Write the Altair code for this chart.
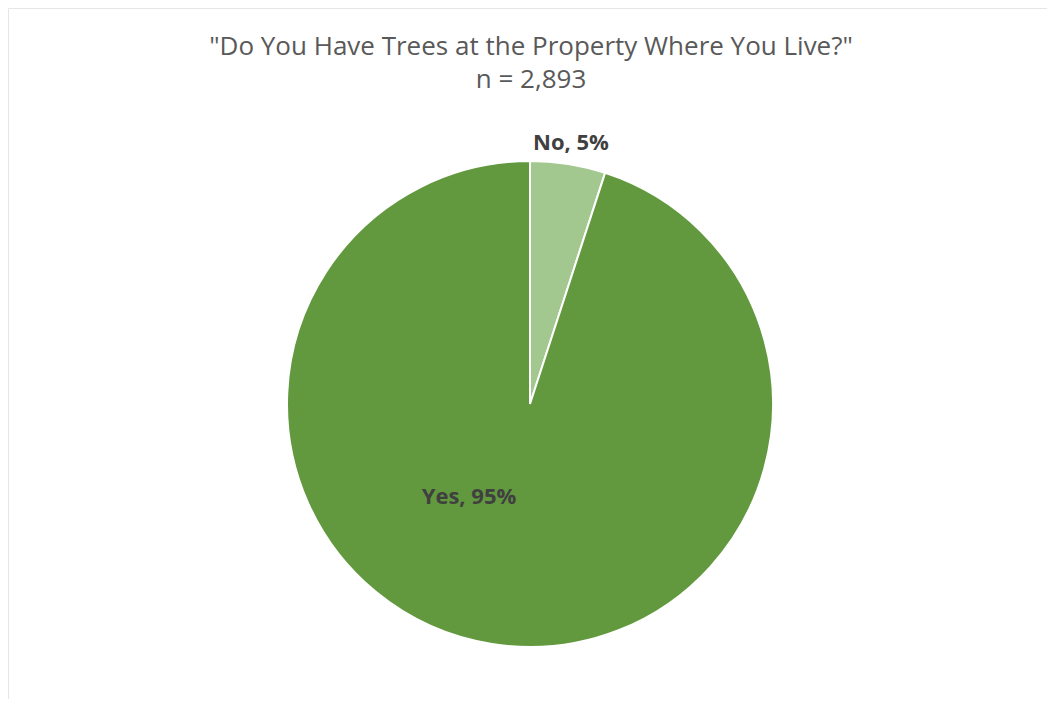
import altair as alt
import pandas as pd

categories = ["No", "Yes"]
percent = [5, 95]
colors = ["#A3C88F", "#62993E"]
label_text = ["No, 5%", "Yes, 95%"]
title_lines = ['"Do You Have Trees at the Property Where You Live?"', "n = 2,893"]

df = pd.DataFrame({"answer": categories, "pct": percent, "order": [0, 1], "label": label_text})

W, H = 1039, 691
CX, CY, R = 522, 396, 243

pie = alt.Chart(df).mark_arc(radius=R, stroke="white", strokeWidth=2).encode(
    theta=alt.Theta("pct:Q", stack=True),
    order=alt.Order("order:Q"),
    color=alt.Color("answer:N", scale=alt.Scale(domain=categories, range=colors), legend=None),
    x=alt.value(CX),
    y=alt.value(CY),
)

lab_no = alt.Chart(df[df.answer == "No"]).mark_text(
    font="Open Sans", fontSize=22, fontWeight="bold", color="#404040"
).encode(text="label:N", x=alt.value(563), y=alt.value(135))

lab_yes = alt.Chart(df[df.answer == "Yes"]).mark_text(
    font="Open Sans", fontSize=22, fontWeight="bold", color="#404040"
).encode(text="label:N", x=alt.value(461), y=alt.value(489))

tdf = pd.DataFrame({"t": title_lines, "i": [0, 1]})
t1 = alt.Chart(tdf[tdf.i == 0]).mark_text(
    font="Open Sans", fontSize=26, color="#595959"
).encode(text="t:N", x=alt.value(523), y=alt.value(39))
t2 = alt.Chart(tdf[tdf.i == 1]).mark_text(
    font="Open Sans", fontSize=26, color="#595959"
).encode(text="t:N", x=alt.value(523), y=alt.value(72))

chart = alt.layer(pie, lab_no, lab_yes, t1, t2).properties(
    width=W, height=H, autosize=alt.AutoSizeParams(type="none"), padding=0
).configure_view(stroke="#e6e6e6", strokeWidth=1)

chart.save("out.html", embed_options={"renderer": "svg", "actions": False})
